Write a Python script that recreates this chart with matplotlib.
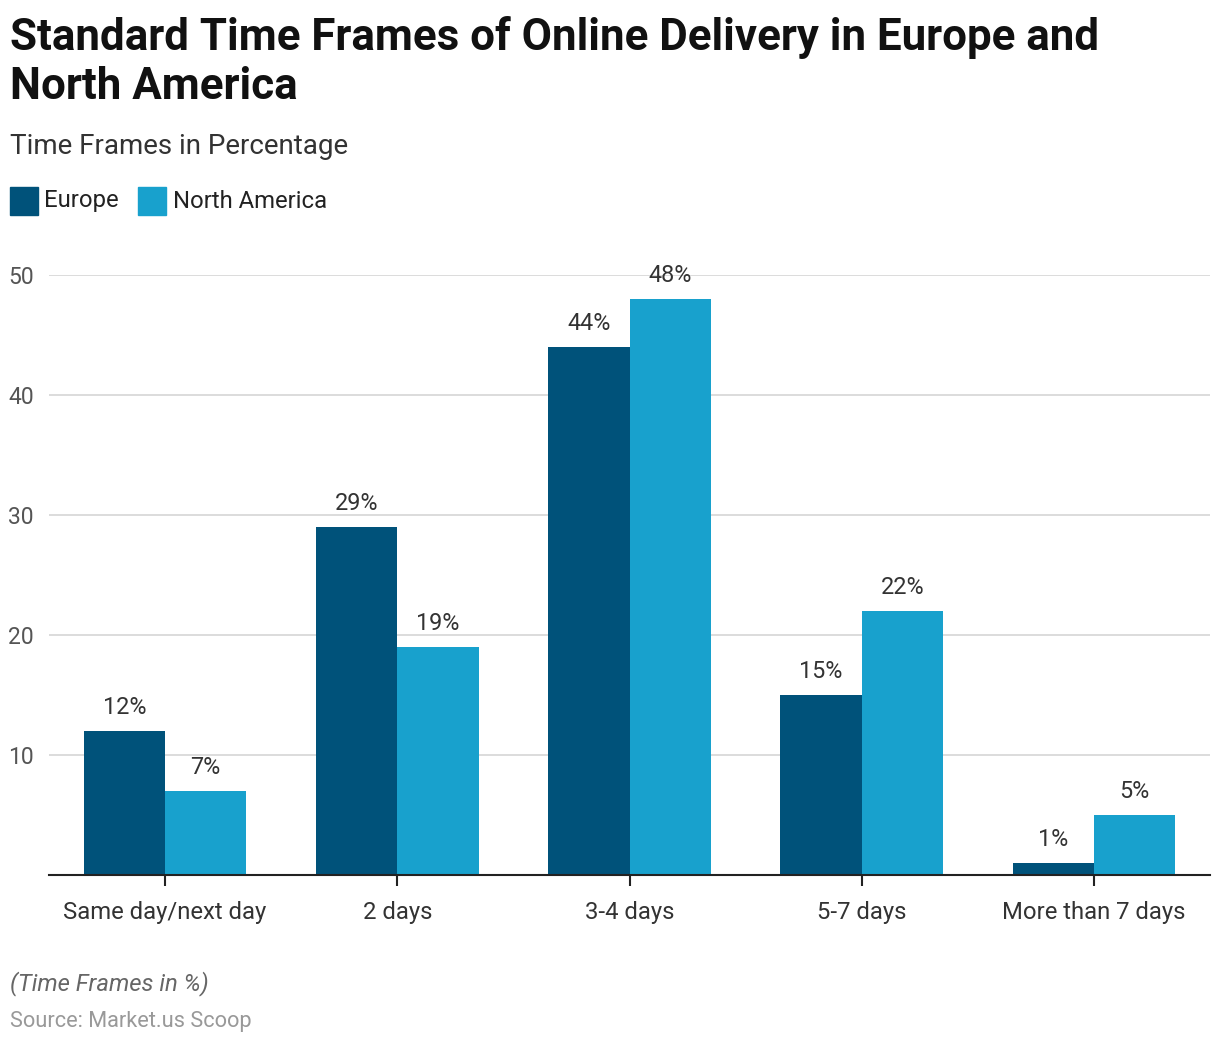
import matplotlib.pyplot as plt
from matplotlib.patches import Rectangle
import numpy as np

plt.rcParams['font.family'] = ['Roboto', 'DejaVu Sans']

# Dados
categorias = ['Same day/next day', '2 days', '3-4 days', '5-7 days', 'More than 7 days']
europa = [12, 29, 44, 15, 1]
america_norte = [7, 19, 48, 22, 5]
series = ['Europe', 'North America']
cores = ['#00527A', '#18A1CD']

W, H = 1220, 1044
fig = plt.figure(figsize=(W / 100, H / 100), dpi=100)

# Eixo principal (pixels -> fracao)
esq, dir_, topo, base = 49, 1210, 275, 875
ax = fig.add_axes([esq / W, 1 - base / H, (dir_ - esq) / W, (base - topo) / H])

x = np.arange(len(categorias))
larg = 0.35
b1 = ax.bar(x - larg / 2, europa, larg, color=cores[0], zorder=2)
b2 = ax.bar(x + larg / 2, america_norte, larg, color=cores[1], zorder=2)

for barras in (b1, b2):
    for b in barras:
        ax.text(b.get_x() + b.get_width() / 2, b.get_height() + 1.0,
                f'{int(b.get_height())}%', ha='center', va='bottom',
                fontsize=16.8, color='#333333', clip_on=False)

ax.set_xlim(-0.5, len(categorias) - 0.5)
ax.set_ylim(0, 50)
ax.set_yticks([10, 20, 30, 40, 50])
ax.set_xticks(x)
ax.set_xticklabels(categorias)
ax.yaxis.grid(True, color='#d6d6d6', linewidth=1.2, zorder=0)
ax.set_axisbelow(True)
for s in ['top', 'right', 'left']:
    ax.spines[s].set_visible(False)
ax.spines['bottom'].set_color('#222222')
ax.spines['bottom'].set_linewidth(1.5)
ax.tick_params(axis='y', length=0, pad=11, labelsize=16.5, labelcolor='#555555')
ax.tick_params(axis='x', length=8, width=1.5, color='#222222', pad=11,
               labelsize=17.2, labelcolor='#333333')

# Titulo e subtitulo
fig.text(10 / W, 1 - 16 / H,
         'Standard Time Frames of Online Delivery in Europe and\nNorth America',
         ha='left', va='top', fontsize=31.6, fontweight='bold', color='#111111',
         linespacing=1.2)
fig.text(10 / W, 1 - 147 / H, 'Time Frames in Percentage', ha='left', va='center',
         fontsize=20, color='#333333')

# Legenda manual
leg_y = 201
fig.patches.append(Rectangle((10 / W, 1 - (leg_y + 14) / H), 28 / W, 28 / H,
                             transform=fig.transFigure, color=cores[0]))
fig.text(44 / W, 1 - leg_y / H, series[0], ha='left', va='center',
         fontsize=17.2, color='#222222')
fig.patches.append(Rectangle((138 / W, 1 - (leg_y + 14) / H), 28 / W, 28 / H,
                             transform=fig.transFigure, color=cores[1]))
fig.text(173 / W, 1 - leg_y / H, series[1], ha='left', va='center',
         fontsize=17.2, color='#222222')

# Rodape
fig.text(10 / W, 1 - 984 / H, '(Time Frames in %)', ha='left', va='center',
         fontsize=17.2, style='italic', color='#666666')
fig.text(10 / W, 1 - 1021 / H, 'Source: Market.us Scoop', ha='left', va='center',
         fontsize=15.7, color='#999999')

plt.savefig('out.png', dpi=100, facecolor='white')
plt.close()
